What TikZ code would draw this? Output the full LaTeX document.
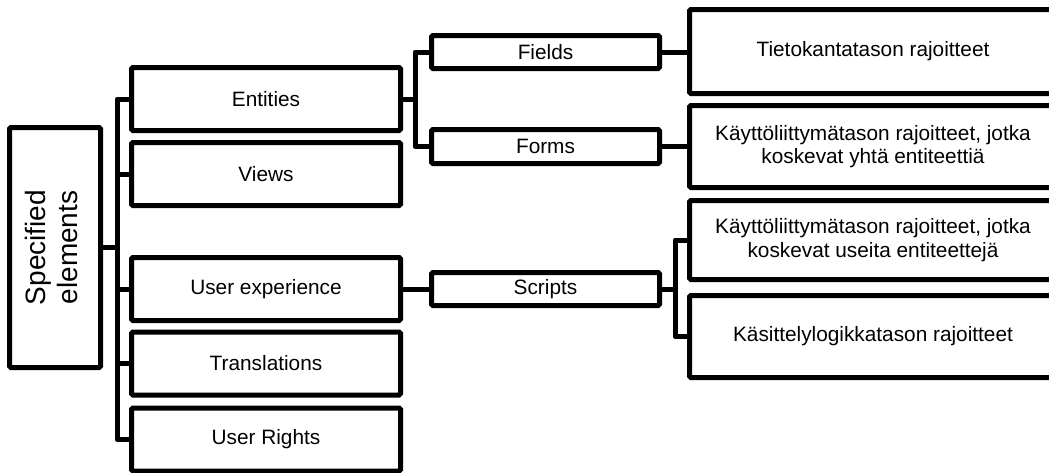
\documentclass[tikz,border=0pt]{standalone}
\usepackage{fontspec}
\setmainfont{Liberation Sans}
\begin{document}
\begin{tikzpicture}[x=1pt,y=-1pt,
  box/.style={draw=black, line width=5pt, fill=white, inner sep=0pt, align=center,
    rounded corners=1.5pt, font=\fontsize{20.8}{23.5}\selectfont},
  lvlA/.style={box, minimum width=269pt, minimum height=63pt},
  lvlB/.style={box, minimum width=228pt, minimum height=34pt},
  lvlC/.style={box, minimum width=367pt},
  conn/.style={line width=5pt, line join=round}
]
\useasboundingbox (0,0) rectangle (1049,472);
\fill[white] (0,0) rectangle (1049,472);
\begin{scope}
\clip (0,0) rectangle (1049,472);
% root
\node[box, minimum width=91pt, minimum height=240pt] (spec) at (55,247.5)
  {\rotatebox{90}{\fontsize{28}{32}\selectfont\begin{tabular}{@{}c@{}}Specified\\elements\end{tabular}}};
% level A
\node[lvlA] (ent) at (266,99) {Entities};
\node[lvlA] (views) at (266,174) {Views};
\node[lvlA] (ux) at (266,289) {User experience};
\node[lvlA] (tr) at (266,363.5) {Translations};
\node[lvlA] (ur) at (266,439.5) {User Rights};
% level B
\node[lvlB, minimum height=33pt] (fields) at (545.5,52) {Fields};
\node[lvlB] (forms) at (545.5,146.5) {Forms};
\node[lvlB, minimum height=33pt] (scripts) at (545.5,289) {Scripts};
% level C
\node[lvlC, minimum height=84pt] (tieto) at (873,51.5) {Tietokantatason rajoitteet};
\node[lvlC, minimum height=82pt] (kay1) at (873,146.5) {Käyttöliittymätason rajoitteet, jotka\\koskevat yhtä entiteettiä};
\node[lvlC, minimum height=79pt] (kay2) at (873,240) {Käyttöliittymätason rajoitteet, jotka\\koskevat useita entiteettejä};
\node[lvlC, minimum height=82pt] (kas) at (873,336.5) {Käsittelylogikkatason rajoitteet};
% trunk coordinates
\coordinate (tA) at (117,0);
\coordinate (tB) at (415,0);
\coordinate (tC) at (675,0);
% connectors root
\draw[conn] (spec.east) -- (spec.east -| tA);
\draw[conn] (ent.west) -- (ent.west -| tA) -- (ur.west -| tA) -- (ur.west);
\draw[conn] (views.west) -- (views.west -| tA);
\draw[conn] (ux.west) -- (ux.west -| tA);
\draw[conn] (tr.west) -- (tr.west -| tA);
% entities -> fields/forms
\draw[conn] (ent.east) -- (ent.east -| tB);
\draw[conn] (fields.west) -- (fields.west -| tB) -- (forms.west -| tB) -- (forms.west);
% ux -> scripts
\draw[conn] (ux.east) -- (scripts.west);
% fields/forms -> C
\draw[conn] (fields.east) -- (fields.east -| tieto.west);
\draw[conn] (forms.east) -- (forms.east -| kay1.west);
% scripts -> C
\draw[conn] (scripts.east) -- (scripts.east -| tC);
\draw[conn] (kay2.west) -- (kay2.west -| tC) -- (kas.west -| tC) -- (kas.west);
\end{scope}
\end{tikzpicture}
\end{document}
